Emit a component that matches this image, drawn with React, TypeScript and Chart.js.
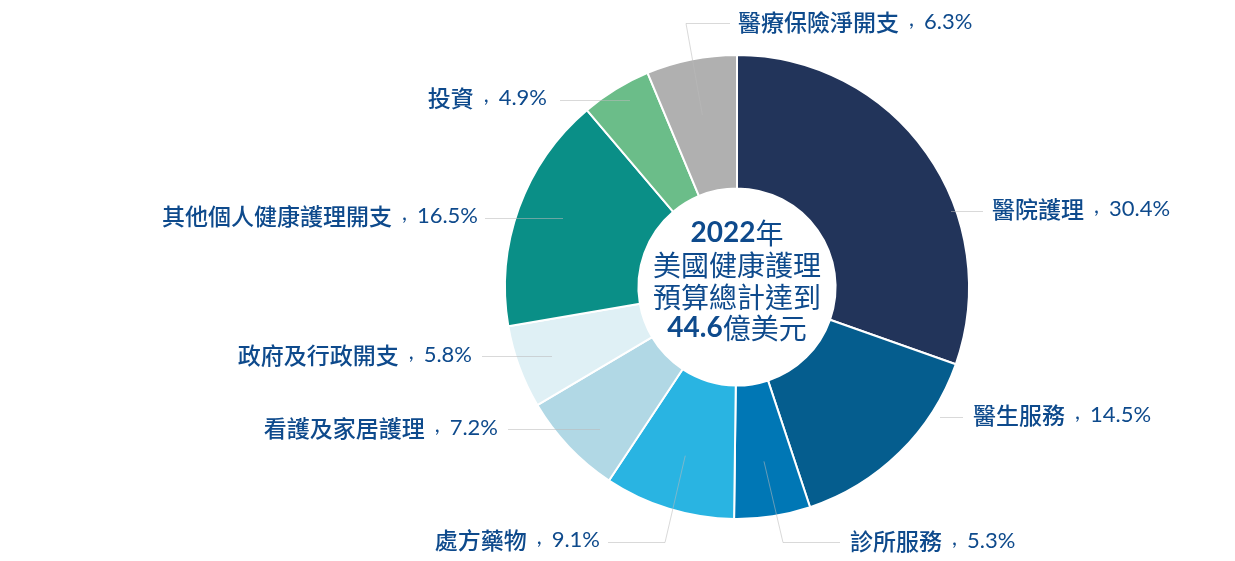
import React, { useEffect, useRef } from "react";
import { Chart, registerables } from "chart.js";

Chart.register(...registerables);

// ---- data ----
const CATEGORIES = [
  "醫院護理",
  "醫生服務",
  "診所服務",
  "處方藥物",
  "看護及家居護理",
  "政府及行政開支",
  "其他個人健康護理開支",
  "投資",
  "醫療保險淨開支",
];
const VALUES = [30.4, 14.5, 5.3, 9.1, 7.2, 5.8, 16.5, 4.9, 6.3];
const CENTER_YEAR = "2022";
const CENTER_TOTAL = "44.6";

// ---- styles ----
const COLORS = [
  "#22345a",
  "#055d8e",
  "#0077b5",
  "#29b4e2",
  "#b1d8e5",
  "#dff0f5",
  "#0a8f87",
  "#6bbd89",
  "#b0b0b0",
];
const TEXT_COLOR = "#0e4a8c";
const LINE_COLOR = "rgba(185,185,185,0.55)";
const LABEL_FONT_SIZE = 23;
const CJK_FONT = '"Noto Sans CJK TC", sans-serif';
const NUM_FONT = 'Lato, "Noto Sans CJK TC", sans-serif';

// label placement relative to chart centre (px)
type Layout = {
  align: "left" | "right";
  tx: number;
  ty: number;
  fromArc: boolean;
  path: Array<[number, number]>;
};
const LABEL_LAYOUT: Layout[] = [
  { align: "left", tx: 255, ty: -78, fromArc: false, path: [[214, -76], [246, -76]] },
  { align: "left", tx: 236, ty: 128, fromArc: false, path: [[203, 130], [226, 130]] },
  { align: "left", tx: 113, ty: 254, fromArc: true, path: [[46, 255], [103, 255]] },
  { align: "right", tx: -137, ty: 253, fromArc: true, path: [[-72, 255], [-129, 255]] },
  { align: "right", tx: -239, ty: 141, fromArc: false, path: [[-137, 142], [-229, 142]] },
  { align: "right", tx: -265, ty: 68, fromArc: false, path: [[-185, 69], [-255, 69]] },
  { align: "right", tx: -259, ty: -71, fromArc: false, path: [[-174, -69], [-252, -69]] },
  { align: "right", tx: -190, ty: -189, fromArc: false, path: [[-107, -187], [-177, -187]] },
  { align: "left", tx: 1, ty: -265, fromArc: true, path: [[-51, -264], [-7, -264]] },
];

// a part is a text run; "cell" parts are drawn centred in a fixed-width cell and raised
type Part = { t: string; font: string; cell?: number; dy?: number };

function drawParts(
  ctx: CanvasRenderingContext2D,
  parts: Part[],
  x: number,
  y: number,
  align: "left" | "right" | "center"
) {
  let total = 0;
  const widths = parts.map((pt) => {
    ctx.font = pt.font;
    const w = pt.cell != null ? pt.cell : ctx.measureText(pt.t).width;
    total += w;
    return w;
  });
  let sx = align === "left" ? x : align === "right" ? x - total : x - total / 2;
  parts.forEach((pt, k) => {
    ctx.font = pt.font;
    if (pt.cell != null) {
      ctx.save();
      ctx.textAlign = "center";
      ctx.textBaseline = "alphabetic";
      ctx.fillText(pt.t, sx + widths[k] / 2, y + (pt.dy || 0));
      ctx.restore();
    } else {
      ctx.textAlign = "left";
      ctx.fillText(pt.t, sx, y);
    }
    sx += widths[k];
  });
}

const leaderLabelPlugin = {
  id: "leaderLabels",
  afterDatasetsDraw(chart: any) {
    const meta = chart.getDatasetMeta(0);
    const ctx: CanvasRenderingContext2D = chart.ctx;
    let cx = 0;
    let cy = 0;
    meta.data.forEach((arc: any, i: number) => {
      const p = arc.getProps(
        ["x", "y", "startAngle", "endAngle", "innerRadius", "outerRadius"],
        true
      );
      cx = p.x;
      cy = p.y;
      const L = LABEL_LAYOUT[i];
      const pts: Array<[number, number]> = [];
      if (L.fromArc) {
        const mid = (p.startAngle + p.endAngle) / 2;
        const r = p.innerRadius + 0.58 * (p.outerRadius - p.innerRadius);
        pts.push([p.x + Math.cos(mid) * r, p.y + Math.sin(mid) * r]);
      }
      L.path.forEach(([dx, dy]) => pts.push([p.x + dx, p.y + dy]));
      ctx.save();
      ctx.strokeStyle = LINE_COLOR;
      ctx.lineWidth = 1;
      ctx.beginPath();
      pts.forEach(([px, py], k) => {
        if (k === 0) ctx.moveTo(px, py + 0.5);
        else ctx.lineTo(px, py + 0.5);
      });
      ctx.stroke();
      ctx.fillStyle = TEXT_COLOR;
      ctx.textBaseline = "middle";
      drawParts(
        ctx,
        [
          { t: CATEGORIES[i], font: `500 ${LABEL_FONT_SIZE}px ${CJK_FONT}` },
          {
            t: ",",
            font: `${LABEL_FONT_SIZE - 1}px ${NUM_FONT}`,
            cell: LABEL_FONT_SIZE + 2,
            dy: 4,
          },
          { t: `${VALUES[i].toFixed(1)}%`, font: `${LABEL_FONT_SIZE - 1}px ${NUM_FONT}` },
        ],
        p.x + L.tx,
        p.y + L.ty,
        L.align
      );
      ctx.restore();
    });

    // centre text
    const big = 28;
    const lines: Part[][] = [
      [
        { t: CENTER_YEAR, font: `bold ${big}px ${NUM_FONT}` },
        { t: "年", font: `${big}px ${CJK_FONT}` },
      ],
      [{ t: "美國健康護理", font: `${big}px ${CJK_FONT}` }],
      [{ t: "預算總計達到", font: `${big}px ${CJK_FONT}` }],
      [
        { t: CENTER_TOTAL, font: `bold ${big}px ${NUM_FONT}` },
        { t: "億美元", font: `${big}px ${CJK_FONT}` },
      ],
    ];
    const offsets = [-54, -22, 10, 41];
    ctx.save();
    ctx.fillStyle = TEXT_COLOR;
    ctx.textBaseline = "middle";
    lines.forEach((parts, li) => {
      drawParts(ctx, parts, cx, cy + offsets[li], "center");
    });
    ctx.restore();
  },
};

export default function App() {
  const canvasRef = useRef<HTMLCanvasElement | null>(null);

  useEffect(() => {
    document.body.style.margin = "0";
    const canvas = canvasRef.current;
    if (!canvas) return;
    const chart = new Chart(canvas, {
      type: "doughnut",
      data: {
        labels: CATEGORIES,
        datasets: [
          {
            data: VALUES,
            backgroundColor: COLORS,
            borderColor: "#ffffff",
            borderWidth: 2,
          },
        ],
      },
      options: {
        responsive: false,
        maintainAspectRatio: false,
        animation: false,
        events: [],
        radius: 232,
        cutout: 116,
        layout: { padding: { left: 239, right: 0, top: 13, bottom: 0 } },
        plugins: {
          legend: { display: false },
          tooltip: { enabled: false },
        },
      } as any,
      plugins: [leaderLabelPlugin],
    });
    return () => chart.destroy();
  }, []);

  return (
    <div style={{ width: 1235, height: 561, background: "#fff" }}>
      <canvas ref={canvasRef} width={1235} height={561} />
    </div>
  );
}
